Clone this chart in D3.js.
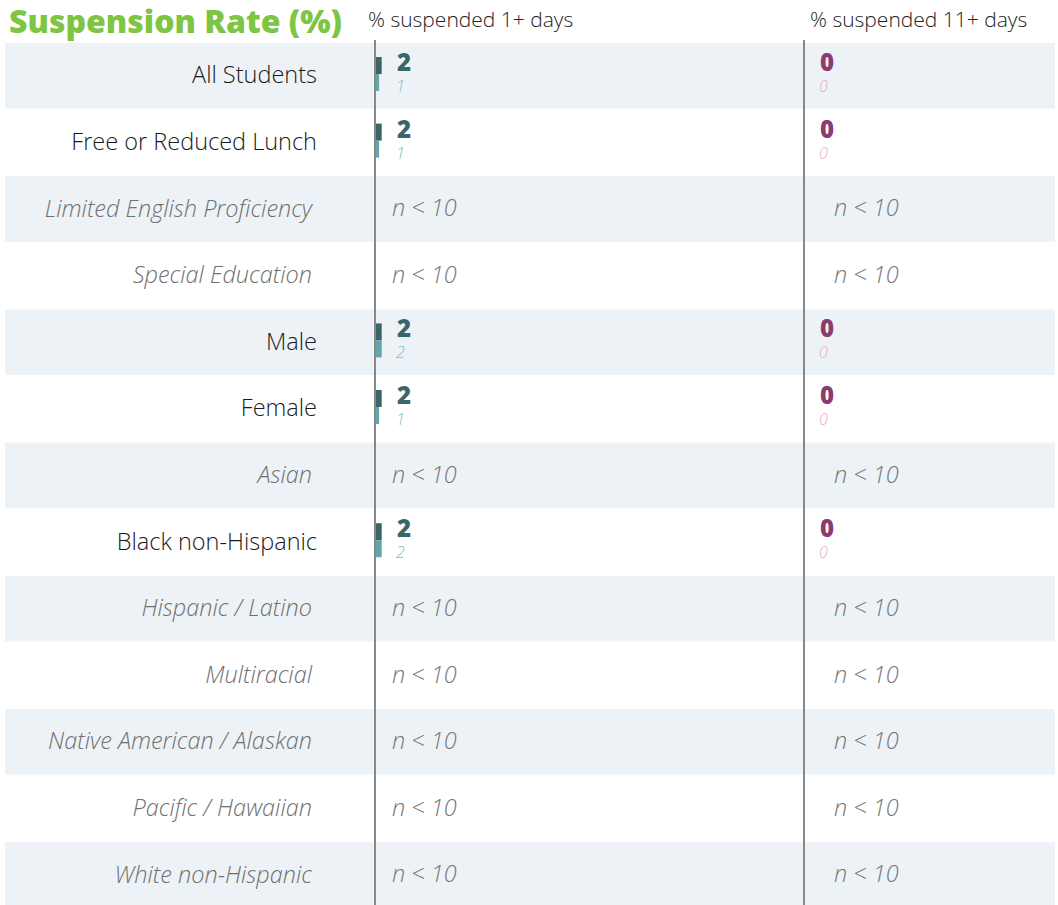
<!DOCTYPE html>
<html>
<head>
<meta charset="utf-8">
<script src="https://cdn.jsdelivr.net/npm/d3@7"></script>
<style>
  body { margin: 0; background: #fff; }
  svg { display: block; font-family: "Open Sans", sans-serif; }
</style>
</head>
<body>
<svg id="chart" width="1058" height="905"></svg>
<script>
// groups shown as rows; suppressed rows have null values (n < 10)
const groups = [
    "All Students", "Free or Reduced Lunch", "Limited English Proficiency",
    "Special Education", "Male", "Female", "Asian", "Black non-Hispanic",
    "Hispanic / Latino", "Multiracial", "Native American / Alaskan",
    "Pacific / Hawaiian", "White non-Hispanic"
];
const school1 = [2, 2, null, null, 2, 2, null, 2, null, null, null, null, null];
const compare1 = [1, 1, null, null, 2, 1, null, 2, null, null, null, null, null];
const school11 = [0, 0, null, null, 0, 0, null, 0, null, null, null, null, null];
const compare11 = [0, 0, null, null, 0, 0, null, 0, null, null, null, null, null];
const columnTitles = ["% suspended 1+ days", "% suspended 11+ days"];

const svg = d3.select("#chart");
const width = +svg.attr("width");
const height = +svg.attr("height");

const topY = 43;
const y = d3.scaleBand()
    .domain(groups)
    .range([topY, topY + 66.6 * groups.length])
    .padding(0);

const columns = [
    { x0: 376, title: columnTitles[0], titleX: 368, school: school1, compare: compare1,
      numX: 21, nX: 16,
      dark: "#3b6566", light: "#62a6ab", darkText: "#3b6566", lightText: "#86bcc0" },
    { x0: 805, title: columnTitles[1], titleX: 810, school: school11, compare: compare11,
      numX: 15, nX: 29,
      dark: "#8a3b6f", light: "#e3a9c3", darkText: "#8a3b6f", lightText: "#e3adc5" }
];

// value scale: percent → bar length
const x = d3.scaleLinear().domain([0, 100]).range([0, 260]);

// row bands
svg.append("g").selectAll("rect")
    .data(groups)
    .join("rect")
    .attr("x", 5)
    .attr("y", d => y(d))
    .attr("width", 1050)
    .attr("height", y.bandwidth() - 1)
    .attr("fill", (d, i) => i % 2 === 0 ? "#edf2f7" : "#ffffff");

// title
svg.append("text")
    .attr("x", 9)
    .attr("y", 33)
    .text("Suspension Rate (%)")
    .style("fill", "#7ec544")
    .style("font-size", "32px")
    .style("font-weight", 800);

// row labels
svg.append("g").selectAll("text")
    .data(groups)
    .join("text")
    .attr("x", (d, i) => school1[i] === null ? 312 : 317)
    .attr("y", d => y(d) + y.bandwidth() / 2 - 2)
    .attr("text-anchor", "end")
    .attr("dominant-baseline", "central")
    .text(d => d)
    .style("font-size", "23.5px")
    .style("font-weight", 300)
    .style("font-style", (d, i) => school1[i] === null ? "italic" : "normal")
    .style("fill", (d, i) => school1[i] === null ? "#707070" : "#1a1a1a");

columns.forEach(col => {
    svg.append("text")
        .attr("x", col.titleX)
        .attr("y", 27)
        .text(col.title)
        .style("font-size", "21px")
        .style("font-weight", 300)
        .style("fill", "#222");

    const g = svg.append("g");
    const rows = g.selectAll("g")
        .data(groups)
        .join("g")
        .attr("transform", d => `translate(${col.x0}, ${y(d)})`);

    rows.each(function(d, i) {
        const row = d3.select(this);
        const s = col.school[i];
        const c = col.compare[i];
        if (s === null) {
            row.append("text")
                .attr("x", col.nX)
                .attr("y", y.bandwidth() / 2 - 2)
                .attr("dominant-baseline", "central")
                .text("n < 10")
                .style("font-size", "23.5px")
                .style("font-weight", 300)
                .style("font-style", "italic")
                .style("fill", "#777");
            return;
        }
        if (s > 0) {
            row.append("rect")
                .attr("x", 0)
                .attr("y", 14)
                .attr("width", x(s) + 0.5)
                .attr("height", 17)
                .attr("fill", col.dark);
        }
        if (c > 0) {
            row.append("rect")
                .attr("x", 0)
                .attr("y", 31)
                .attr("width", x(c) + 0.5)
                .attr("height", 17)
                .attr("fill", col.light);
        }
        row.append("text")
            .attr("x", col.numX)
            .attr("y", 28)
            .text(s)
            .style("font-size", "24px")
            .style("font-weight", 800)
            .style("fill", col.darkText);
        row.append("text")
            .attr("x", col.numX - 1)
            .attr("y", 49)
            .text(c)
            .style("font-size", "16px")
            .style("font-weight", 300)
            .style("font-style", "italic")
            .style("fill", col.lightText);
    });

    svg.append("line")
        .attr("x1", col.x0 - 1)
        .attr("x2", col.x0 - 1)
        .attr("y1", 40)
        .attr("y2", height)
        .attr("stroke", "#888")
        .attr("stroke-width", 2);
});
</script>
</body>
</html>
